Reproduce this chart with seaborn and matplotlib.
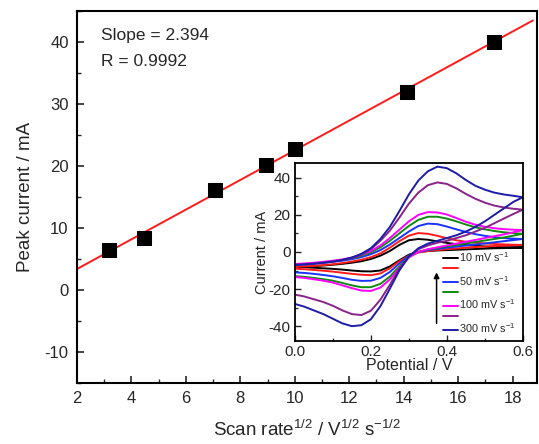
import numpy as np
import pandas as pd
import matplotlib
matplotlib.use('Agg')
import matplotlib.pyplot as plt
import seaborn as sns
from matplotlib.ticker import MultipleLocator
from matplotlib.lines import Line2D

# ---------------- data ----------------
sqrt_rate = [3.16, 4.47, 7.07, 8.94, 10.0, 14.14, 17.32]
peak_current = [6.5, 8.4, 16.2, 20.1, 22.7, 32.0, 40.0]
fit_slope = 2.394
fit_intercept = -1.39
fit_range = [2.0, 18.75]

potential = [0.000, 0.025, 0.050, 0.075, 0.100, 0.125, 0.150, 0.175, 0.200,
             0.225, 0.250, 0.275, 0.300, 0.325, 0.350, 0.375, 0.400, 0.425,
             0.450, 0.475, 0.500, 0.525, 0.550, 0.575, 0.600]

cv_10_fwd = [-8, -7.8, -7.6, -7.3, -6.9, -6.4, -5.8, -5, -3.8, -2, 0.5, 3.8, 6.3,
             7, 6.6, 5.7, 4.9, 4.2, 3.7, 3.3, 3, 2.8, 2.6, 2.5, 2.4]
cv_10_rev = [-8, -8.2, -8.5, -8.8, -9.1, -9.5, -10, -10.4, -10.5, -10, -7.8,
             -4.5, -1.5, 0, 0.5, 0.8, 1, 1.2, 1.4, 1.6, 1.8, 2, 2.1, 2.3, 2.4]
cv_20_fwd = [-8, -7.8, -7.5, -7.1, -6.6, -6, -5.2, -4.2, -2.8, -0.8, 2.3, 5.8, 8.8,
             10.2, 9.8, 8.7, 7.4, 6.3, 5.5, 5, 4.6, 4.3, 4.1, 3.9, 3.8]
cv_20_rev = [-9, -9.3, -9.7, -10.1, -10.6, -11.2, -11.8, -12.3, -12.5, -11.6,
             -8.8, -5, -2, -0.3, 0.5, 1, 1.5, 1.9, 2.3, 2.6, 2.9, 3.2, 3.4, 3.6, 3.8]
cv_50_fwd = [-7, -6.7, -6.3, -5.8, -5.3, -4.7, -3.9, -2.8, -1.2, 1, 4, 7.5, 11,
             14, 15.3, 15, 13.7, 12.2, 10.8, 9.6, 8.7, 8, 7.5, 7.2, 7]
cv_50_rev = [-11, -11.3, -11.8, -12.4, -13.1, -14, -15, -15.6, -15.5, -14,
             -10.8, -6.2, -2, 0, 1, 1.7, 2.3, 2.9, 3.5, 4, 4.6, 5.2, 5.8, 6.4, 7]
cv_80_fwd = [-6.8, -6.5, -6.1, -5.6, -5, -4.3, -3.4, -2, -0.2, 2.5, 6, 10, 14,
             17.3, 19, 19, 18, 16.5, 14.8, 13.3, 12.2, 11.3, 10.6, 10.2, 9.8]
cv_80_rev = [-13, -13.4, -14, -14.7, -15.5, -16.7, -18, -19, -19, -17.2, -13.3,
             -7.8, -2.5, 0, 1.3, 2.2, 3, 3.8, 4.6, 5.4, 6.2, 7, 7.8, 8.8, 9.8]
cv_100_fwd = [-6.5, -6.2, -5.8, -5.3, -4.7, -4, -3, -1.5, 0.5, 3.5, 7.5, 12,
              16.5, 20, 21.5, 21.3, 20.2, 18.3, 16.3, 14.7, 13.6, 12.8, 12.3, 12, 11.8]
cv_100_rev = [-13.5, -14, -14.7, -15.5, -16.5, -18, -19.5, -20.8, -21, -19.2,
              -14.8, -8.7, -3, 0, 1.5, 2.5, 3.5, 4.5, 5.5, 6.5, 7.5, 8.5, 9.5, 10.6, 11.8]
cv_200_fwd = [-7, -6.7, -6.3, -5.8, -5.2, -4.4, -3.2, -1.5, 1.5, 6, 11.5, 18.5,
              26, 32, 36, 37.5, 36.7, 34.3, 31.3, 28.7, 26.6, 25, 24, 23.3, 22.8]
cv_200_rev = [-23, -24, -25.5, -27, -29, -31.5, -33.5, -34, -31.7, -25.8, -17.7,
              -9, -2.5, 1.5, 3.5, 5, 6, 7.5, 9, 11, 13, 15.5, 18, 20.5, 22.8]
cv_300_fwd = [-7, -6.7, -6.3, -5.8, -5.2, -4.3, -3, -1, 2, 7, 13.5, 22, 31,
              38.5, 43.5, 46, 45.2, 42.4, 38.8, 35.7, 33.6, 32, 31, 30.3, 29.5]
cv_300_rev = [-28, -29.5, -31.5, -33.5, -36, -38.5, -40, -39.5, -36.3, -29.3, -19.8,
              -10, -2.5, 2, 4.5, 6, 7.5, 9, 11, 13.5, 16.5, 20, 23.5, 27, 29.5]

cv_fwd = [cv_10_fwd, cv_20_fwd, cv_50_fwd, cv_80_fwd, cv_100_fwd, cv_200_fwd, cv_300_fwd]
cv_rev = [cv_10_rev, cv_20_rev, cv_50_rev, cv_80_rev, cv_100_rev, cv_200_rev, cv_300_rev]
cv_labels = ['10 mV s$^{-1}$', ' ', '50 mV s$^{-1}$', ' ',
             '100 mV s$^{-1}$', ' ', '300 mV s$^{-1}$']
cv_colors = ['#000000', '#ff1a1a', '#1a33ff', '#108a10', '#ff00ff', '#8a228a', '#1c1ca8']

# ---------------- style ----------------
sns.set_style('ticks')
plt.rcParams['font.family'] = ['Liberation Sans', 'DejaVu Sans']
plt.rcParams['mathtext.fontset'] = 'custom'
plt.rcParams['mathtext.rm'] = 'Liberation Sans'
plt.rcParams['mathtext.it'] = 'Liberation Sans'
plt.rcParams['axes.unicode_minus'] = False

fig = plt.figure(figsize=(5.39, 4.44), dpi=100)
ax = fig.add_axes([0.1429, 0.1374, 0.8534, 0.8376])

df_pts = pd.DataFrame({'x': sqrt_rate, 'y': peak_current})
fit_df = pd.DataFrame({'x': fit_range,
                       'y': [fit_intercept + fit_slope * v for v in fit_range]})
sns.lineplot(data=fit_df, x='x', y='y', ax=ax, color='#ff1a1a', lw=1.4, zorder=2)
sns.scatterplot(data=df_pts, x='x', y='y', ax=ax, marker='s', s=90,
                color='black', edgecolor='black', zorder=3)

ax.set_xlim(2, 18.9)
ax.set_ylim(-15, 45)
ax.xaxis.set_major_locator(MultipleLocator(2))
ax.xaxis.set_minor_locator(MultipleLocator(1))
ax.yaxis.set_major_locator(MultipleLocator(10))
ax.yaxis.set_minor_locator(MultipleLocator(5))
ax.tick_params(which='major', direction='in', length=5, width=1.2,
               labelsize=12, pad=6, top=False, right=False)
ax.tick_params(which='minor', direction='in', length=3, width=1.0,
               top=False, right=False)
for s in ax.spines.values():
    s.set_linewidth(1.5)
    s.set_color('black')
ax.set_xlabel('Scan rate$^{1/2}$ / V$^{1/2}$ s$^{-1/2}$', fontsize=13.5, labelpad=10)
ax.set_ylabel('Peak current / mA', fontsize=13.5, labelpad=8)
ax.text(0.052, 0.935, 'Slope = 2.394', transform=ax.transAxes, fontsize=12.5,
        va='center', ha='left')
ax.text(0.052, 0.865, 'R = 0.9992', transform=ax.transAxes, fontsize=12.5,
        va='center', ha='left')

# ---------------- inset ----------------
ins = fig.add_axes([0.547, 0.232, 0.423, 0.401])
handles = []
for fwd, rev, c, lab in zip(cv_fwd, cv_rev, cv_colors, cv_labels):
    loop = pd.DataFrame({'E': potential + potential[::-1],
                         'I': fwd + rev[::-1]})
    sns.lineplot(data=loop, x='E', y='I', ax=ins, sort=False, estimator=None,
                 color=c, lw=1.4)
    handles.append(Line2D([], [], color=c, lw=1.4))

ins.set_xlim(0, 0.6)
ins.set_ylim(-48, 48)
ins.xaxis.set_major_locator(MultipleLocator(0.2))
ins.xaxis.set_minor_locator(MultipleLocator(0.1))
ins.yaxis.set_major_locator(MultipleLocator(20))
ins.yaxis.set_minor_locator(MultipleLocator(10))
ins.tick_params(which='major', direction='in', length=4, width=1.0,
                labelsize=11, pad=3)
ins.tick_params(which='minor', direction='in', length=2.5, width=0.9)
for s in ins.spines.values():
    s.set_linewidth(1.3)
    s.set_color('black')
ins.set_xlabel('Potential / V', fontsize=11.5, labelpad=-1)
ins.set_ylabel('Current / mA', fontsize=10.5, labelpad=0)
ins.annotate('', xy=(0.373, -9.5), xytext=(0.373, -40),
             arrowprops=dict(arrowstyle='-|>', color='black', lw=1.1,
                             mutation_scale=8))
leg = ins.legend(handles, cv_labels, loc='lower left',
                 bbox_to_anchor=(0.64, 0.02), frameon=False, fontsize=7.8,
                 handlelength=1.4, handletextpad=0.1, labelspacing=0.0,
                 handleheight=0.5, borderpad=0.1, borderaxespad=0.1)

fig.savefig('out.png', dpi=100)
